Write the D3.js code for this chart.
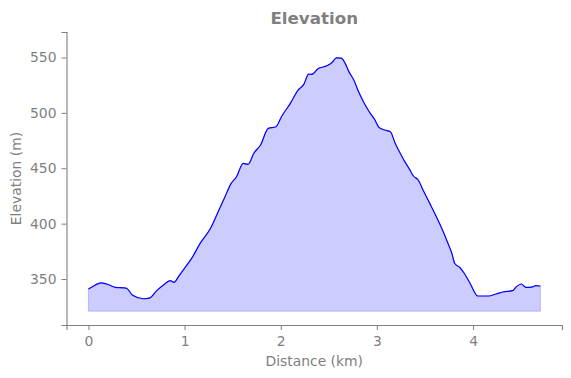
<!DOCTYPE html>
<html>
<head>
<meta charset="utf-8">
<script src="https://cdn.jsdelivr.net/npm/d3@7"></script>
<style>
    body { margin: 0; background: #fff; }
    text { font-family: "DejaVu Sans", sans-serif; }
</style>
</head>
<body>
<svg id="chart" width="571" height="378"></svg>
<script>
// distance along the route (km)
var distance = [0, 0.04, 0.13, 0.19, 0.28, 0.37, 0.40, 0.46, 0.57, 0.64, 0.71, 0.78, 0.85, 0.89, 0.94,
    1.01, 1.08, 1.16, 1.27, 1.34, 1.42, 1.48, 1.54, 1.61, 1.66, 1.72, 1.79, 1.87, 1.95, 2.01,
    2.10, 2.18, 2.24, 2.29, 2.32, 2.39, 2.48, 2.53, 2.58, 2.63, 2.67, 2.71, 2.76, 2.81, 2.86,
    2.92, 2.98, 3.02, 3.08, 3.14, 3.19, 3.24, 3.29, 3.34, 3.38, 3.43, 3.48, 3.55, 3.62, 3.69,
    3.74, 3.78, 3.81, 3.86, 3.91, 3.97, 4.05, 4.16, 4.24, 4.31, 4.41, 4.45, 4.50, 4.55, 4.62,
    4.65, 4.70];
// elevation (m)
var elevation = [341, 343, 346.5, 345.5, 342.5, 342, 341.5, 335.3, 332.2, 333, 339.5, 344.6, 348.5, 347, 352.7,
    361, 369.6, 382, 395.8, 409, 424.3, 435.7, 442.3, 454.4, 453.5, 463.5, 471, 486, 487.5, 497,
    508.6, 520.6, 525.7, 535, 534.7, 540, 542.5, 545.2, 549.7, 549.4, 544.7, 537, 529.6, 519, 510,
    501, 493.5, 487, 484.5, 483, 472.5, 464, 456, 449, 443, 439.4, 430.3, 418.3, 406, 392.7,
    382, 373, 364, 360.6, 355, 346, 334.7, 334.7, 336.5, 338.3, 339.5, 343, 345.5, 342.5, 343,
    344, 343.7];
var xTicks = [0, 1, 2, 3, 4];
var yTicks = [350, 400, 450, 500, 550];
var baseLevel = 321;

(function () {
    var svg = d3.select('#chart');
    var mLeft = 66.5, mRight = 562, mTop = 32, mBottom = 325;
    var grey = '#7f7f7f';

    var x = d3.scaleLinear().domain([-0.228, 4.925]).range([mLeft, mRight]);
    var y = d3.scaleLinear().domain([308.5, 573]).range([mBottom, mTop]);

    var points = distance.map(function (d, i) {
        return [d, elevation[i]];
    });

    var area = d3.area()
        .x(function (d) { return x(d[0]); })
        .y0(y(baseLevel))
        .y1(function (d) { return y(d[1]); })
        .curve(d3.curveMonotoneX);

    var line = d3.line()
        .x(function (d) { return x(d[0]); })
        .y(function (d) { return y(d[1]); })
        .curve(d3.curveMonotoneX);

    svg.append('path')
        .datum(points)
        .attr('d', area)
        .attr('fill', 'rgba(0,0,255,0.2)')
        .attr('stroke', 'rgba(0,0,255,0.2)')
        .attr('stroke-width', 1);

    svg.append('path')
        .datum(points)
        .attr('d', line)
        .attr('fill', 'none')
        .attr('stroke', '#0000ff')
        .attr('stroke-width', 1.2);

    var xAxis = svg.append('g')
        .attr('transform', 'translate(0,' + mBottom + ')')
        .call(d3.axisBottom(x).tickValues(xTicks).tickFormat(d3.format('d'))
            .tickSizeOuter(0).tickSize(5).tickPadding(6));
    var yAxis = svg.append('g')
        .attr('transform', 'translate(' + mLeft + ',0)')
        .call(d3.axisLeft(y).tickValues(yTicks)
            .tickSizeOuter(0).tickSize(5).tickPadding(5));

    [xAxis, yAxis].forEach(function (g) {
        g.select('.domain').attr('stroke', grey).attr('stroke-width', 1.1);
        g.selectAll('.tick line').attr('stroke', grey);
        g.selectAll('.tick text').attr('fill', grey).style('font-size', '13.9px');
    });

    svg.append('text')
        .attr('x', (mLeft + mRight) / 2)
        .attr('y', 24)
        .attr('text-anchor', 'middle')
        .attr('fill', grey)
        .style('font-size', '16.7px')
        .style('font-weight', 'bold')
        .text('Elevation');

    svg.append('text')
        .attr('x', (mLeft + mRight) / 2)
        .attr('y', 366)
        .attr('text-anchor', 'middle')
        .attr('fill', grey)
        .style('font-size', '13.9px')
        .text('Distance (km)');

    svg.append('text')
        .attr('transform', 'translate(21,' + (mTop + mBottom) / 2 + ') rotate(-90)')
        .attr('text-anchor', 'middle')
        .attr('fill', grey)
        .style('font-size', '13.9px')
        .text('Elevation (m)');
})();
</script>
</body>
</html>
